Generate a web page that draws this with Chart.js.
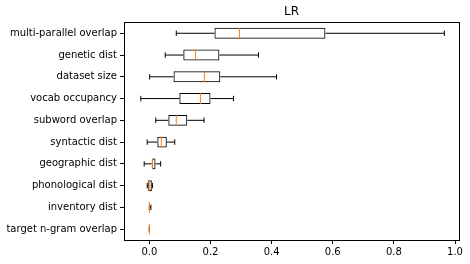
<!DOCTYPE html>
<html>
<head>
<meta charset="utf-8">
<script src="https://cdn.jsdelivr.net/npm/chart.js@4.4.0/dist/chart.umd.min.js"></script>
<style>
  html, body { margin: 0; padding: 0; background: #fff; }
  #wrap { width: 470px; height: 264px; }
</style>
</head>
<body>
<div id="wrap"><canvas id="chart" width="470" height="264"></canvas></div>
<script>
// box plot stats per feature
const features = ['multi-parallel overlap', 'genetic dist', 'dataset size', 'vocab occupancy',
  'subword overlap', 'syntactic dist', 'geographic dist', 'phonological dist',
  'inventory dist', 'target n-gram overlap'];
const whiskerLow  = [0.088, 0.052, 0.001, -0.028, 0.021, -0.007, -0.017, -0.007, 0.000, 0];
const q1          = [0.213, 0.111, 0.079,  0.098, 0.062,  0.026,  0.008, -0.004, 0.000, 0];
const median      = [0.295, 0.151, 0.180,  0.167, 0.088,  0.039,  0.010, -0.001, 0.000, 0];
const q3          = [0.576, 0.229, 0.232,  0.200, 0.124,  0.057,  0.020,  0.008, 0.002, 0];
const whiskerHigh = [0.965, 0.357, 0.416,  0.275, 0.179,  0.083,  0.037,  0.010, 0.005, 0];
const xTicks = [0, 0.2, 0.4, 0.6, 0.8, 1.0];

const FONT = 'DejaVu Sans';

// whiskers, caps, medians and the axes frame
const boxParts = {
  id: 'boxParts',
  afterDatasetsDraw(chart) {
    const ctx = chart.ctx;
    const xs = chart.scales.x, ys = chart.scales.y;
    const meta = chart.getDatasetMeta(0);
    ctx.save();
    ctx.lineWidth = 1;
    features.forEach((f, i) => {
      const y = ys.getPixelForValue(i);
      const half = meta.data[i].height / 2;
      const cap = half / 2;
      const lo = xs.getPixelForValue(whiskerLow[i]);
      const a = xs.getPixelForValue(q1[i]);
      const b = xs.getPixelForValue(q3[i]);
      const hi = xs.getPixelForValue(whiskerHigh[i]);
      const m = xs.getPixelForValue(median[i]);
      ctx.strokeStyle = '#000';
      ctx.beginPath();
      ctx.moveTo(lo, y); ctx.lineTo(a, y);
      ctx.moveTo(b, y); ctx.lineTo(hi, y);
      ctx.moveTo(lo, y - cap); ctx.lineTo(lo, y + cap);
      ctx.moveTo(hi, y - cap); ctx.lineTo(hi, y + cap);
      ctx.stroke();
      ctx.strokeStyle = '#ff7f0e';
      ctx.beginPath();
      ctx.moveTo(m, y - half); ctx.lineTo(m, y + half);
      ctx.stroke();
    });
    const ca = chart.chartArea;
    ctx.strokeStyle = '#000';
    ctx.strokeRect(Math.round(ca.left) + 0.5, Math.round(ca.top) + 0.5,
      Math.round(ca.right - ca.left), Math.round(ca.bottom - ca.top));
    ctx.restore();
  }
};

new Chart(document.getElementById('chart'), {
  type: 'bar',
  data: {
    labels: features,
    datasets: [{
      data: features.map((f, i) => [q1[i], q3[i]]),
      backgroundColor: 'rgba(0,0,0,0)',
      borderColor: '#000',
      borderWidth: 1,
      borderSkipped: false,
      barPercentage: 0.5,
      categoryPercentage: 1
    }]
  },
  options: {
    indexAxis: 'y',
    responsive: false,
    animation: false,
    layout: { padding: { left: 0, right: 11, top: 0, bottom: 0 } },
    plugins: {
      legend: { display: false },
      tooltip: { enabled: false },
      title: {
        display: true,
        text: 'LR',
        fullSize: false,
        color: '#000',
        font: { family: FONT, size: 12, weight: 'normal' },
        padding: { top: 5, bottom: 3 }
      }
    },
    scales: {
      x: {
        type: 'linear',
        min: -0.083,
        max: 1.013,
        afterBuildTicks: s => { s.ticks = xTicks.map(v => ({ value: v })); },
        afterFit: s => { s.height = 24; },
        border: { display: false },
        grid: { drawOnChartArea: false, drawTicks: true, tickLength: 4, color: '#000' },
        ticks: {
          color: '#000',
          padding: 2,
          maxRotation: 0,
          font: { family: FONT, size: 10 },
          callback: v => Number(v).toFixed(1)
        }
      },
      y: {
        afterFit: s => { s.width = 124; },
        border: { display: false },
        grid: { offset: false, drawOnChartArea: false, drawTicks: true, tickLength: 4, color: '#000' },
        ticks: {
          color: '#000',
          padding: 3,
          font: { family: FONT, size: 10 },
          autoSkip: false
        }
      }
    }
  },
  plugins: [boxParts]
});
</script>
</body>
</html>
